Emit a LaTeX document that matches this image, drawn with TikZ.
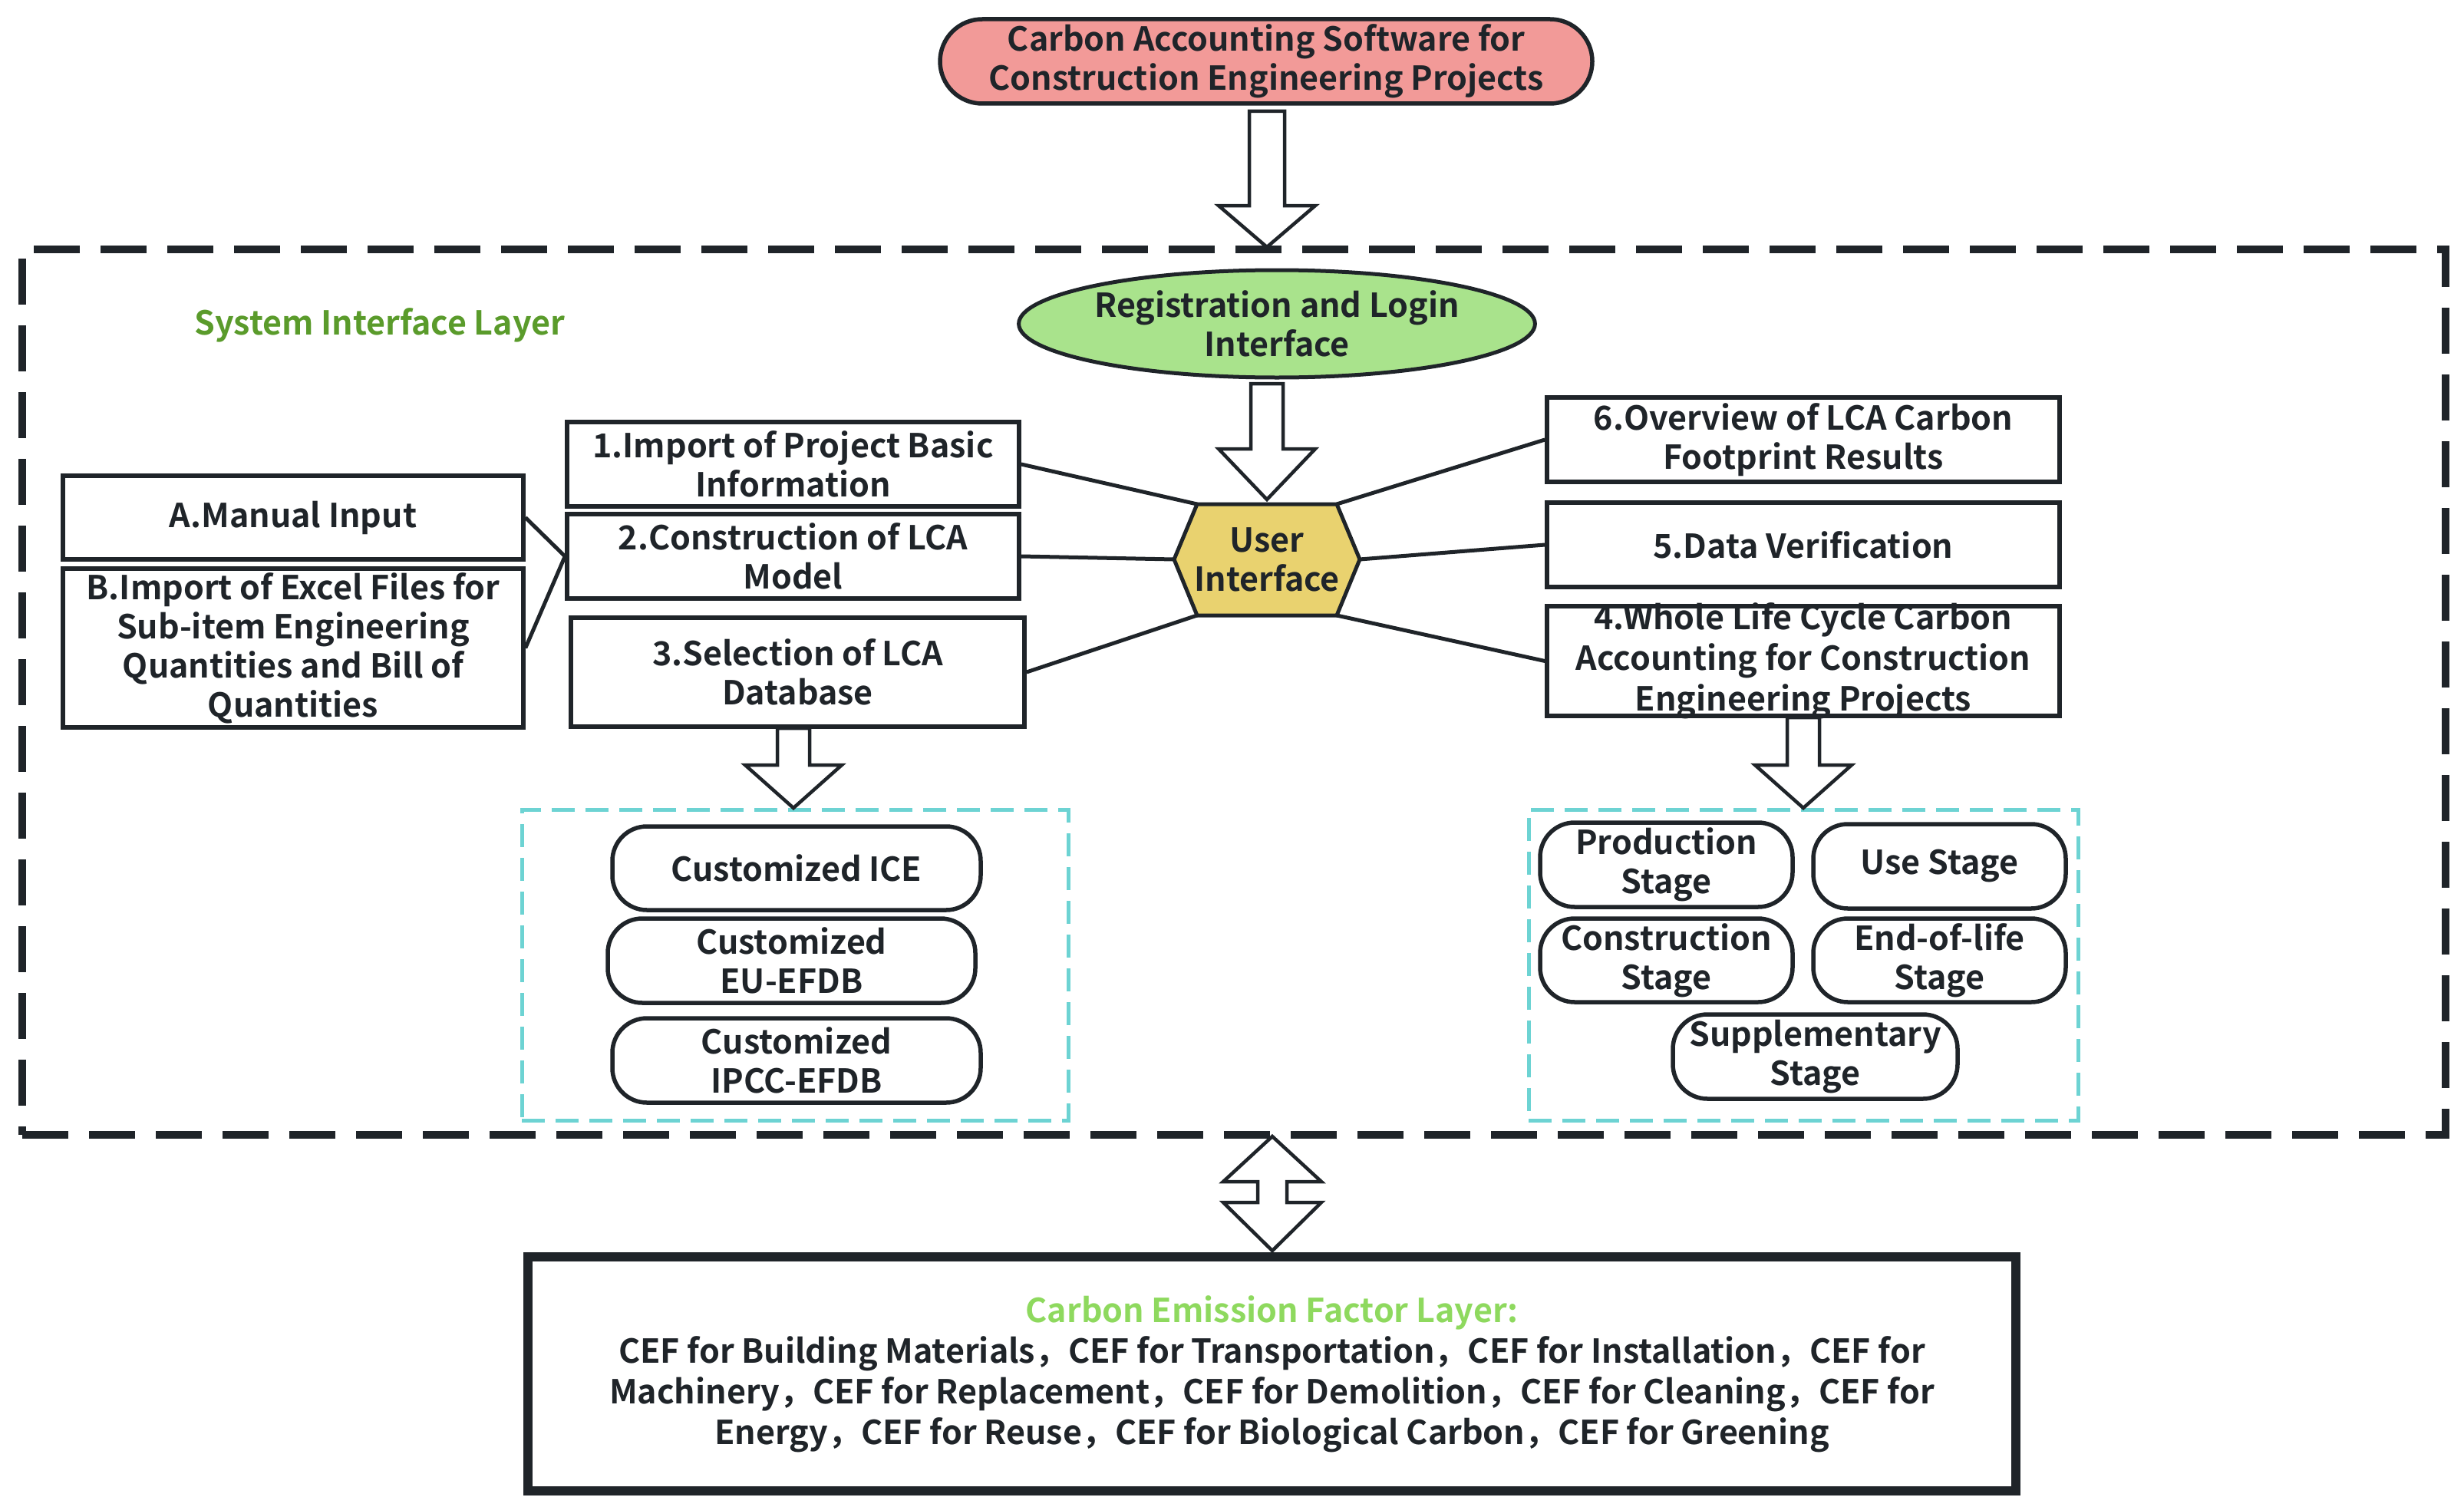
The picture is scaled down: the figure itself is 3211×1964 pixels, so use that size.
\documentclass[tikz,border=0pt]{standalone}
\usepackage{fontspec}
\setmainfont{Noto Sans CJK SC}[BoldFont={Noto Sans CJK SC Bold}]
\usetikzlibrary{shapes.geometric}
\definecolor{linec}{HTML}{1F2429}
\definecolor{pinkf}{HTML}{F29A98}
\definecolor{greenf}{HTML}{A9E38C}
\definecolor{hexf}{HTML}{E9D26F}
\definecolor{silgreen}{HTML}{5A9B2B}
\definecolor{cefgreen}{HTML}{8ED95E}
\definecolor{cyanl}{HTML}{6DD3D3}
\newcommand\mytxt{\fontsize{43pt}{51pt}\selectfont\bfseries}
\newcommand\mytxtwide{\fontsize{43pt}{53pt}\selectfont\bfseries}
\tikzset{
  box/.style={draw=linec, line width=5.5pt, fill=white, align=center, font=\mytxt, inner sep=2pt, text=linec},
  pill/.style={box, rounded corners=45pt},
  conn/.style={draw=linec, line width=5pt},
  blockarrow/.style={draw=linec, line width=4.5pt, fill=white, line join=miter},
  cyanbox/.style={draw=cyanl, line width=5pt, dash pattern=on 30pt off 14pt},
  bigdash/.style={draw=linec, line width=10pt, dash pattern=on 60pt off 27pt}
}
\begin{document}
\begin{tikzpicture}[x=1pt,y=-1pt]
\useasboundingbox (0,0) rectangle (3211,1964);
% big dashed frame
\node[bigdash, minimum width=3158pt, minimum height=1154pt, inner sep=0pt] (sil) at (1608,902) {};
\node[font=\mytxt, text=silgreen, anchor=west, inner sep=0pt] (siltitle) at (253,424) {System Interface Layer};
% title
\node[box, fill=pinkf, rounded corners=55pt, minimum width=850pt, minimum height=110pt] (title) at (1650,80) {Carbon Accounting Software for\\Construction Engineering Projects};
% registration
\node[ellipse, draw=linec, line width=5pt, fill=greenf, align=center, font=\mytxt, text=linec, minimum width=666pt, minimum height=140pt, inner sep=0pt] (reg) at (1664,422) {Registration and Login\\Interface};
% hexagon
\coordinate (hL) at (1530,729);
\coordinate (hTL) at (1560,657);
\coordinate (hTR) at (1742,657);
\coordinate (hR) at (1772,729);
\coordinate (hBR) at (1742,802);
\coordinate (hBL) at (1560,802);
\draw[draw=linec, line width=5pt, fill=hexf, line join=miter] (hL) -- (hTL) -- (hTR) -- (hR) -- (hBR) -- (hBL) -- cycle;
\node[align=center, font=\mytxt, text=linec, inner sep=0pt] (ui) at (1651,729) {User\\Interface};
% left boxes
\node[box, minimum width=589pt, minimum height=110pt] (b1) at (1033.5,605) {1.Import of Project Basic\\Information};
\node[box, minimum width=589pt, minimum height=110pt] (b2) at (1033.5,725) {2.Construction of LCA\\Model};
\node[box, minimum width=591pt, minimum height=142pt] (b3) at (1039.5,876) {3.Selection of LCA\\Database};
\node[box, minimum width=600pt, minimum height=109pt] (bA) at (382,674.5) {A.Manual Input};
\node[box, minimum width=600pt, minimum height=207pt, inner sep=0pt] (bB) at (382,844.5) {B.Import of Excel Files for\\Sub-item Engineering\\Quantities and Bill of\\Quantities};
% right boxes
\node[box, minimum width=668pt, minimum height=110pt] (b6) at (2350,573) {6.Overview of LCA Carbon\\Footprint Results};
\node[box, minimum width=668pt, minimum height=110pt] (b5) at (2350,710) {5.Data Verification};
\node[box, minimum width=668pt, minimum height=143pt, label={[font=\mytxtwide, align=center, text=linec, inner sep=0pt]center:4.Whole Life Cycle Carbon\\Accounting for Construction\\Engineering Projects}] (b4) at (2350,861.5) {};
% connectors
\draw[conn] (b1.east) -- (hTL);
\draw[conn] (b2.east) -- (hL);
\draw[conn] (b3.east) -- (hBL);
\draw[conn] (hTR) -- (b6.west);
\draw[conn] (hR) -- (b5.west);
\draw[conn] (hBR) -- (b4.west);
\draw[conn] (bA.east) -- (b2.west);
\draw[conn] (bB.east) -- (b2.west);
% cyan boxes
\node[cyanbox, minimum width=712pt, minimum height=405pt, inner sep=0pt] (cyL) at (1036,1257.5) {};
\node[cyanbox, minimum width=716pt, minimum height=405pt, inner sep=0pt] (cyR) at (2350,1257.5) {};
\node[pill, minimum width=480pt, minimum height=109pt] (ice) at (1038,1131.5) {Customized ICE};
\node[pill, minimum width=479pt, minimum height=110pt] (eu) at (1031.5,1252) {Customized\\EU-EFDB};
\node[pill, minimum width=480pt, minimum height=110pt] (ipcc) at (1038,1382) {Customized\\IPCC-EFDB};
\node[pill, minimum width=329pt, minimum height=110pt] (prod) at (2171.5,1127) {Production\\Stage};
\node[pill, minimum width=329pt, minimum height=110pt] (use) at (2527.5,1129) {Use Stage};
\node[pill, minimum width=329pt, minimum height=109pt] (cons) at (2171.5,1251.5) {Construction\\Stage};
\node[pill, minimum width=329pt, minimum height=109pt] (eol) at (2527.5,1251.5) {End-of-life\\Stage};
\node[pill, minimum width=371pt, minimum height=110pt] (supp) at (2365.5,1377) {Supplementary\\Stage};
% bottom box
\node[box, font=\mytxtwide, line width=12pt, minimum width=1939pt, minimum height=305pt] (cef) at (1657.5,1790.5) {{\color{cefgreen}Carbon Emission Factor Layer:}\\CEF for Building Materials，CEF for Transportation，CEF for Installation，CEF for\\Machinery，CEF for Replacement，CEF for Demolition，CEF for Cleaning，CEF for\\Energy，CEF for Reuse，CEF for Biological Carbon，CEF for Greening};
% block arrows
\draw[blockarrow] (1628,145) -- (1674,145) -- (1674,268) -- (1714,268) -- (1651,322) -- (1588,268) -- (1628,268) -- cycle;
\draw[blockarrow] (1630,500) -- (1672,500) -- (1672,585) -- (1714,585) -- (1651,651) -- (1588,585) -- (1630,585) -- cycle;
\draw[blockarrow] (1013,949) -- (1055,949) -- (1055,997) -- (1097,997) -- (1034,1053) -- (971,997) -- (1013,997) -- cycle;
\draw[blockarrow] (2329,935) -- (2371,935) -- (2371,997) -- (2413,997) -- (2350,1053) -- (2287,997) -- (2329,997) -- cycle;
\draw[blockarrow] (1658,1481) -- (1722,1540) -- (1677,1540) -- (1677,1567) -- (1722,1567) -- (1658,1630) -- (1594,1567) -- (1639,1567) -- (1639,1540) -- (1594,1540) -- cycle;
\end{tikzpicture}
\end{document}
